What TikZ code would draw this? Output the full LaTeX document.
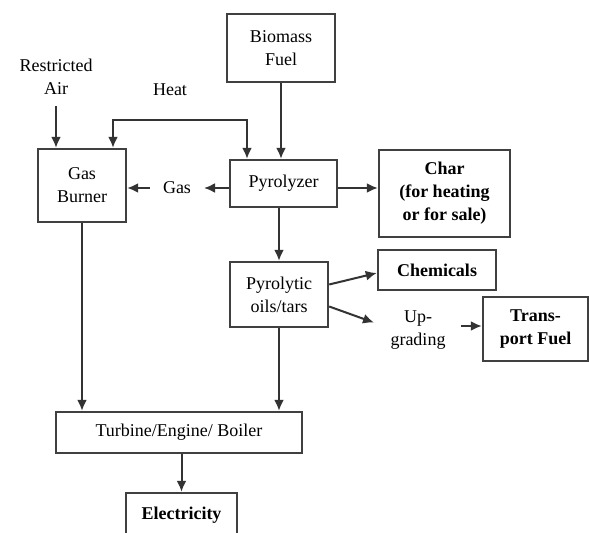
\documentclass[tikz,border=0pt]{standalone}
\usepackage{fontspec}
\setmainfont{Liberation Serif}
\usepackage{tikz}
\usetikzlibrary{arrows.meta}
\tikzset{
  box/.style={draw=black!75, line width=1.2pt, align=center, inner sep=1pt,
    font=\fontsize{9}{11.5}\selectfont},
  boldbox/.style={box, font=\fontsize{9}{11.5}\selectfont\bfseries},
  lbl/.style={align=center, font=\fontsize{9}{11.5}\selectfont},
  arr/.style={draw=black!80, line width=1pt, -{Latex[length=5.5pt,width=5pt]}},
}

\begin{document}
\begin{tikzpicture}[x=0.5pt,y=-0.5pt]
\clip (0,0) rectangle (589,533);
\fill[white] (0,0) rectangle (589,533);
% boxes
\node[box, minimum width=54pt, minimum height=34pt] (biomass) at (281,48) {Biomass\\Fuel};
\node[box, minimum width=53.5pt, minimum height=23.5pt] (pyro) at (283.5,183.5) {Pyrolyzer};
\node[box, minimum width=44pt, minimum height=36.5pt] (burner) at (82,185.5) {Gas\\Burner};
\node[boldbox, minimum width=65.5pt, minimum height=43.5pt] (char) at (444.5,193.5) {Char\\(for heating\\or for sale)};
\node[boldbox, minimum width=59pt, minimum height=20pt] (chem) at (437,270) {Chemicals};
\node[box, minimum width=49pt, minimum height=32.5pt] (oils) at (279,294.5) {Pyrolytic\\oils/tars};
\node[boldbox, minimum width=52.5pt, minimum height=32pt] (fuel) at (535.5,329) {Trans-\\port Fuel};
\node[box, minimum width=123pt, minimum height=20.5pt] (turbine) at (179,432.5) {Turbine/Engine/ Boiler};
\node[boldbox, minimum width=55.5pt, minimum height=22pt] (elec) at (181.5,515) {Electricity};
% free labels
\node[lbl] (air) at (56,77) {Restricted\\Air};
\node[lbl] (heat) at (170,90) {Heat};
\node[lbl] (gas) at (177,188) {Gas};
\node[lbl] (upgrade) at (418,330) {Up-\\grading};
\coordinate (hl) at (113,120);
\coordinate (hr) at (247,120);
% connectors
\draw[arr, shorten <=2pt] (air.south) -- (air.south |- burner.north);
\draw[arr, {Latex[length=5.5pt,width=5pt]}-{Latex[length=5.5pt,width=5pt]}] (hl |- burner.north) -- (hl) -- (hr) -- (hr |- pyro.north);
\draw[arr] (biomass.south) -- (biomass.south |- pyro.north);
\draw[arr, shorten >=3pt] (pyro.west |- gas) -- (gas.east);
\draw[arr, shorten <=3pt] (gas.west) -- (burner.east |- gas);
\draw[arr] (pyro.east |- gas) -- (char.west |- gas);
\draw[arr] (pyro.south -| oils) -- (oils.north);
\draw[arr] ([yshift=5pt]oils.east) -- ([yshift=-1.5pt]chem.west);
\draw[arr, shorten >=5pt] ([yshift=-6pt]oils.east) -- ([yshift=2pt]upgrade.west);
\draw[arr, shorten <=4pt] ([yshift=2pt]upgrade.east) -- ([yshift=2pt]fuel.west |- upgrade);
\draw[arr] (burner.south) -- (burner.south |- turbine.north);
\draw[arr] (oils.south) -- (oils.south |- turbine.north);
\draw[arr] (turbine.south -| elec) -- (elec.north);
\end{tikzpicture}
\end{document}
